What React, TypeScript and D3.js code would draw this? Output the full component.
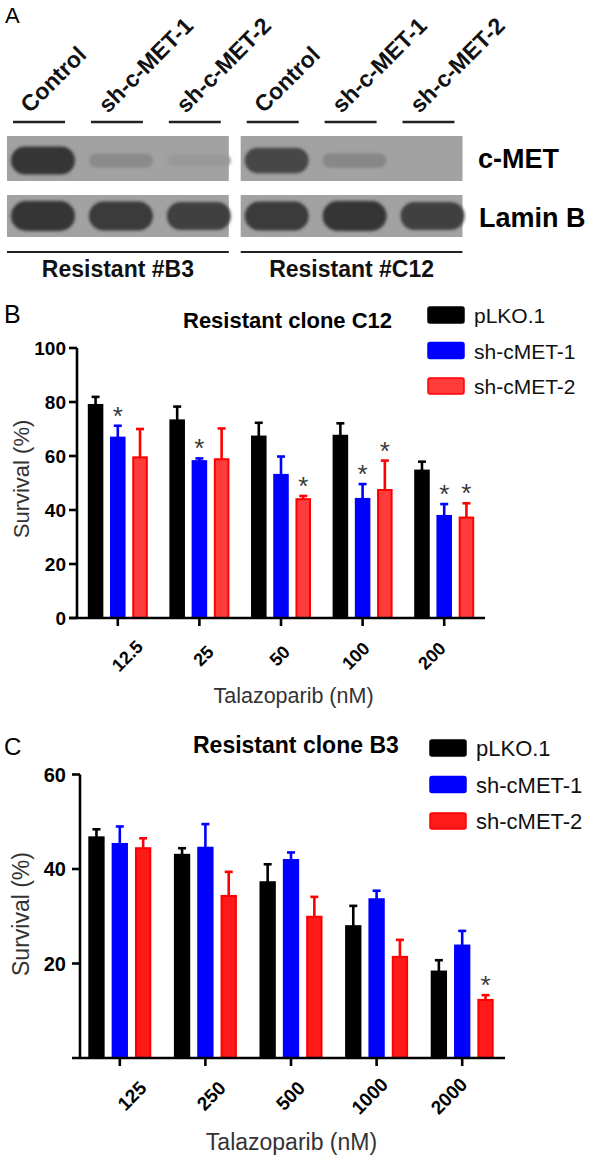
import React from 'react';
import * as d3 from 'd3';

const FONT = "'Liberation Sans', Arial, Helvetica, sans-serif";

// ---------- Panel A: western blot ----------
const blotLanes = ['Control', 'sh-c-MET-1', 'sh-c-MET-2'];
const blotClones = ['Resistant #B3', 'Resistant #C12'];
const blotProteins = ['c-MET', 'Lamin B'];
// relative band signal per lane (B3: Control, sh1, sh2, C12: Control, sh1, sh2)
const cmetSignal = [1.0, 0.22, 0.08, 0.85, 0.25, 0.0];
const laminSignal = [1.0, 0.95, 0.9, 0.95, 1.0, 0.9];

// ---------- Panel B: Resistant clone C12 ----------
const seriesNames = ['pLKO.1', 'sh-cMET-1', 'sh-cMET-2'];
const doseC12 = ['12.5', '25', '50', '100', '200'];
const c12_pLKO = [78.9, 73.2, 67.2, 67.5, 54.6];
const c12_sh1 = [66.8, 58.1, 53.0, 44.1, 37.8];
const c12_sh2 = [59.5, 58.8, 44.0, 47.4, 37.2];
const c12_pLKO_err = [3.0, 5.1, 5.1, 4.6, 3.3];
const c12_sh1_err = [4.4, 1.0, 6.8, 5.5, 4.4];
const c12_sh2_err = [10.5, 11.4, 1.2, 10.9, 5.3];
const c12_pLKO_sig = [false, false, false, false, false];
const c12_sh1_sig = [true, true, false, true, true];
const c12_sh2_sig = [false, false, true, true, true];
const c12Ticks = [0, 20, 40, 60, 80, 100];

// ---------- Panel C: Resistant clone B3 ----------
const doseB3 = ['125', '250', '500', '1000', '2000'];
const b3_pLKO = [46.7, 43.0, 37.2, 27.9, 18.3];
const b3_sh1 = [45.3, 44.5, 41.9, 33.6, 23.8];
const b3_sh2 = [44.4, 34.3, 29.9, 21.4, 12.3];
const b3_pLKO_err = [1.7, 1.4, 3.8, 4.3, 2.4];
const b3_sh1_err = [3.7, 5.0, 1.6, 1.8, 3.1];
const b3_sh2_err = [2.1, 5.1, 4.2, 3.6, 1.0];
const b3_pLKO_sig = [false, false, false, false, false];
const b3_sh1_sig = [false, false, false, false, false];
const b3_sh2_sig = [false, false, false, false, true];
const b3Ticks = [20, 40, 60];

const seriesStroke = ['#000000', '#0000ff', '#ff0000'];

type Layout = {
  xRange: [number, number];
  axisX: number;
  axisRight: number;
  yRange: [number, number];
  yDomain: [number, number];
  labelRange: [number, number];
  labelY: number;
  tickFont: number;
  yTickFont: number;
  yLabelGap: number;
  groupHalf: number;
  title: string;
  titleX: number;
  titleY: number;
  titleSize: number;
  legendX: number;
  legendY: number;
  legendStep: number;
  legendFont: number;
  yTitleX: number;
  yTitleY: number;
  yTitleSize: number;
  xTitleX: number;
  xTitleY: number;
  xTitleSize: number;
  fills: string[];
};

function BarChart({ cats, values, errs, sigs, ticks, L }: any) {
  const lay: Layout = L;
  const x0 = d3.scaleBand<string>().domain(cats).range(lay.xRange).padding(0);
  const x1 = d3.scaleBand<string>().domain(seriesNames).range([-lay.groupHalf, lay.groupHalf]).paddingInner(0.3);
  const y = d3.scaleLinear().domain(lay.yDomain).range(lay.yRange);
  const lx = d3.scalePoint<string>().domain(cats).range(lay.labelRange);
  const bw = x1.bandwidth();
  const cap = 8;
  const y0 = y(lay.yDomain[0]);
  return (
    <g fontFamily={FONT}>
      {/* bars */}
      {seriesNames.map((s, si) =>
        cats.map((c: string, ci: number) => {
          const v = values[si][ci];
          const e = errs[si][ci];
          const cx = (x0(c) as number) + x0.bandwidth() / 2 + (x1(s) as number);
          const mid = cx + bw / 2;
          const top = y(v);
          const capY = y(v + e);
          return (
            <g key={s + c}>
              <line x1={mid} x2={mid} y1={top} y2={capY} stroke={seriesStroke[si]} strokeWidth={2.6} />
              <line x1={mid - cap / 2} x2={mid + cap / 2} y1={capY} y2={capY} stroke={seriesStroke[si]} strokeWidth={2.6} />
              <rect x={cx + 1} y={top} width={bw - 2} height={y0 - top} fill={lay.fills[si]} stroke={seriesStroke[si]} strokeWidth={2} />
              {sigs[si][ci] && (
                <text x={mid} y={capY - 10} textAnchor="middle" dominantBaseline="central" fontSize={26} fill="#3a3a3a">*</text>
              )}
            </g>
          );
        })
      )}
      {/* axes */}
      <line x1={lay.axisX} x2={lay.axisX} y1={y(lay.yDomain[1])} y2={y0} stroke="#000" strokeWidth={2.6} />
      <line x1={lay.axisX - 8} x2={lay.axisRight} y1={y0} y2={y0} stroke="#000" strokeWidth={2.6} />
      {ticks.map((t: number) => (
        <g key={t}>
          <line x1={lay.axisX - 8} x2={lay.axisX} y1={y(t)} y2={y(t)} stroke="#000" strokeWidth={2.6} />
          <text x={lay.axisX - lay.yLabelGap} y={y(t)} dy="0.36em" textAnchor="end" fontWeight="bold" fontSize={lay.yTickFont} fill="#000">{t}</text>
        </g>
      ))}
      {cats.map((c: string) => {
        const cx = (x0(c) as number) + x0.bandwidth() / 2;
        const lxv = lx(c) as number;
        return (
          <g key={c}>
            <line x1={cx} x2={cx} y1={y0} y2={y0 + 8} stroke="#000" strokeWidth={2.6} />
            <text transform={`translate(${lxv},${lay.labelY}) rotate(-45)`} textAnchor="middle" dominantBaseline="central" fontWeight="bold" fontSize={lay.tickFont} fill="#000">{c}</text>
          </g>
        );
      })}
      {/* titles */}
      <text x={lay.titleX} y={lay.titleY} fontWeight="bold" fontSize={lay.titleSize} fill="#000">{lay.title}</text>
      <text transform={`translate(${lay.yTitleX},${lay.yTitleY}) rotate(-90)`} textAnchor="middle" fontSize={lay.yTitleSize} fill="#333">Survival (%)</text>
      <text x={lay.xTitleX} y={lay.xTitleY} textAnchor="middle" fontSize={lay.xTitleSize} fill="#333">Talazoparib (nM)</text>
      {/* legend */}
      {seriesNames.map((s, si) => (
        <g key={s} transform={`translate(${lay.legendX},${lay.legendY + si * lay.legendStep})`}>
          <rect x={0} y={0} width={36} height={16} rx={2} fill={lay.fills[si]} stroke={seriesStroke[si]} strokeWidth={1.5} />
          <text x={46} y={16} fontSize={lay.legendFont} fill="#111">{s}</text>
        </g>
      ))}
    </g>
  );
}

function Blot() {
  const lanesAll = d3.range(blotClones.length * blotLanes.length);
  const lane = d3.scalePoint<number>().domain(lanesAll).range([39, 428.5]);
  const rowTop = [136, 195];
  const rowH = [45, 42];
  const bg = '#a2a2a2';
  const shade = d3.interpolateRgb(bg, '#363636');
  const signals = [cmetSignal, laminSignal];
  return (
    <g fontFamily={FONT}>
      <defs>
        <filter id="blur" x="-20%" y="-40%" width="140%" height="180%">
          <feGaussianBlur stdDeviation={1.8} />
        </filter>
      </defs>
      {lanesAll.map((i) => {
        const cx = lane(i) as number;
        const name = blotLanes[i % blotLanes.length];
        return (
          <g key={'l' + i}>
            <line x1={cx - 26} x2={cx + 26} y1={122} y2={122} stroke="#222" strokeWidth={2.5} />
            <text transform={`translate(${cx - 9},114) rotate(-45)`} fontWeight="bold" fontSize={23} fill="#111">{name}</text>
          </g>
        );
      })}
      {blotClones.map((clone, ci) => {
        const bx0 = (lane(ci * 3) as number) - 32;
        const bx1 = (lane(ci * 3 + 2) as number) + 34;
        return (
          <g key={clone}>
            {blotProteins.map((p, pi) => (
              <g key={p}>
                <rect x={bx0} y={rowTop[pi]} width={bx1 - bx0} height={rowH[pi]} fill={bg} />
                {blotLanes.map((ln, li) => {
                  const idx = ci * 3 + li;
                  const s = signals[pi][idx];
                  if (s <= 0) return null;
                  const cx = (lane(idx) as number) + 4;
                  const h = (pi === 0 ? 28 : 30) * (0.35 + 0.65 * s);
                  const w = 64;
                  const cy = rowTop[pi] + rowH[pi] / 2 + (pi === 0 ? 2 : 0);
                  return (
                    <rect key={ln} x={cx - w / 2} y={cy - h / 2} width={w} height={h} rx={h / 2} fill={shade(Math.min(1, s))} filter="url(#blur)" />
                  );
                })}
              </g>
            ))}
            <line x1={bx0} x2={bx1} y1={252} y2={252} stroke="#222" strokeWidth={2} />
            <text x={(bx0 + bx1) / 2} y={277} textAnchor="middle" fontWeight="bold" fontSize={23} fill="#111">{clone}</text>
          </g>
        );
      })}
      <text x={478} y={168} fontWeight="bold" fontSize={27} fill="#000">{blotProteins[0]}</text>
      <text x={479} y={227} fontWeight="bold" fontSize={27} fill="#000">{blotProteins[1]}</text>
    </g>
  );
}

const layoutB: Layout = {
  xRange: [77, 485], axisX: 77, axisRight: 485, yRange: [618, 348], yDomain: [0, 100],
  labelRange: [127.5, 432], labelY: 656, tickFont: 18, yTickFont: 19, yLabelGap: 11, groupHalf: 30,
  title: 'Resistant clone C12', titleX: 183, titleY: 328, titleSize: 22,
  legendX: 428, legendY: 307, legendStep: 35.5, legendFont: 21,
  yTitleX: 29, yTitleY: 479, yTitleSize: 22, xTitleX: 293.5, xTitleY: 703, xTitleSize: 21.5,
  fills: ['#000000', '#0000ff', '#ff3c3c'],
};

const layoutC: Layout = {
  xRange: [77, 505], axisX: 80, axisRight: 505, yRange: [1058, 774.5], yDomain: [0, 60],
  labelRange: [132, 449], labelY: 1096, tickFont: 19, yTickFont: 20, yLabelGap: 14, groupHalf: 31.5,
  title: 'Resistant clone B3', titleX: 193, titleY: 753, titleSize: 23,
  legendX: 430, legendY: 740, legendStep: 36.5, legendFont: 22,
  yTitleX: 29, yTitleY: 914, yTitleSize: 23, xTitleX: 291.5, xTitleY: 1150, xTitleSize: 23,
  fills: ['#000000', '#0000ff', '#ff1a1a'],
};

export default function App() {
  return (
    <svg width={600} height={1161} viewBox="0 0 600 1161" style={{ position: 'absolute', left: 0, top: 0, background: '#fff' }} fontFamily={FONT}>
      <rect x={0} y={0} width={600} height={1161} fill="#fff" />
      <text x={5} y={23} fontSize={22} fill="#000">A</text>
      <text x={4} y={323} fontSize={25} fill="#000">B</text>
      <text x={4} y={755} fontSize={24} fill="#000">C</text>
      <Blot />
      <BarChart
        cats={doseC12}
        values={[c12_pLKO, c12_sh1, c12_sh2]}
        errs={[c12_pLKO_err, c12_sh1_err, c12_sh2_err]}
        sigs={[c12_pLKO_sig, c12_sh1_sig, c12_sh2_sig]}
        ticks={c12Ticks}
        L={layoutB}
      />
      <BarChart
        cats={doseB3}
        values={[b3_pLKO, b3_sh1, b3_sh2]}
        errs={[b3_pLKO_err, b3_sh1_err, b3_sh2_err]}
        sigs={[b3_pLKO_sig, b3_sh1_sig, b3_sh2_sig]}
        ticks={b3Ticks}
        L={layoutC}
      />
    </svg>
  );
}
